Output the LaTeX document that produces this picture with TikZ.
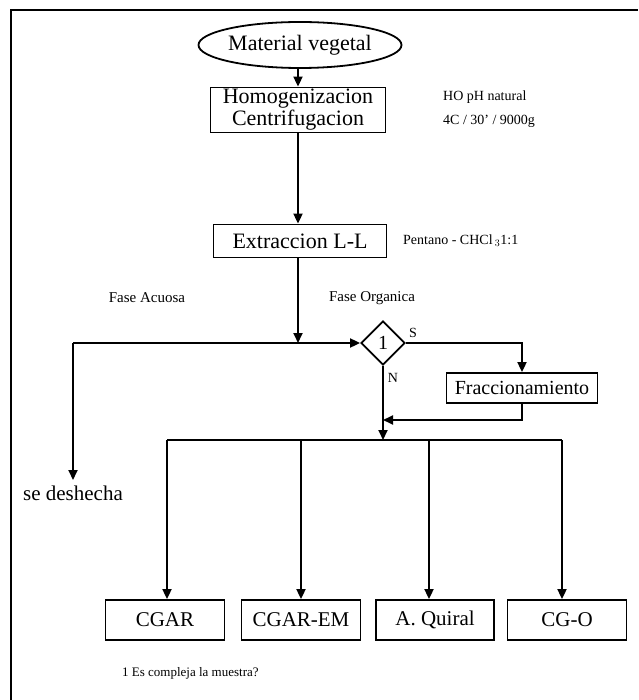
\documentclass[tikz,border=0pt]{standalone}
\usepackage{fontspec}
\setmainfont{Liberation Serif}
\usetikzlibrary{shapes.geometric,arrows.meta}
\tikzset{
  conn/.style={line width=1.8pt,-{Triangle[length=10pt,width=9pt]}},
  plain/.style={line width=1.8pt},
  boxnode/.style={draw,line width=1.8pt,rectangle,inner sep=0pt,align=center,font=\fontsize{21}{22}\selectfont},
  small/.style={inner sep=0pt,font=\fontsize{14}{16}\selectfont},
  big/.style={inner sep=0pt,font=\fontsize{21}{24}\selectfont}
}
\begin{document}
\begin{tikzpicture}[x=1pt,y=-1pt]
\useasboundingbox (0,0) rectangle (638,700);
\draw[line width=1.8pt] (11,700) -- (11,10) -- (638,10);
% nodes
\node[draw,ellipse,line width=1.8pt,minimum width=195pt,minimum height=46pt,inner sep=0pt,font=\fontsize{22}{24}\selectfont] (mv) at (300,45) {Material vegetal};
\node[boxnode,minimum width=175pt,minimum height=45pt,font=\fontsize{22}{22}\selectfont] (hc) at (298,110) {Homogenizacion\\Centrifugacion};
\node[small,anchor=west] (ho) at (443,97) {HO pH natural};
\node[small,anchor=west] (tc) at (443,121) {4C / 30' / 9000g};
\node[boxnode,minimum width=173pt,minimum height=33pt,font=\fontsize{22}{24}\selectfont] (ext) at (300,241) {Extraccion L-L};
\node[small,anchor=west] (pe) at (403,241) {Pentano - CHCl\,$_3$1:1};
\node[small,font=\fontsize{15}{17}\selectfont] (fa) at (147,298) {Fase Acuosa};
\node[small,font=\fontsize{15}{17}\selectfont] (fo) at (372,298) {Fase Organica};
\node[draw,diamond,line width=1.8pt,minimum width=44pt,minimum height=44pt,inner sep=0pt,font=\fontsize{20}{22}\selectfont] (d1) at (383,343) {1};
\node[small] (s) at (413,333) {S};
\node[small] (n) at (393,378) {N};
\node[boxnode,minimum width=151pt,minimum height=30pt,font=\fontsize{20}{22}\selectfont] (fr) at (522,388) {Fraccionamiento};
\node[big,anchor=north] (sd) at (73,486) {se deshecha};
\node[boxnode,minimum width=119pt,minimum height=40pt] (b1) at (165,620) {CGAR};
\node[boxnode,minimum width=119pt,minimum height=40pt] (b2) at (301,620) {CGAR-EM};
\node[boxnode,minimum width=118pt,minimum height=40pt] (b3) at (435,620) {A. Quiral};
\node[boxnode,minimum width=119pt,minimum height=40pt] (b4) at (567,620) {CG-O};
\node[small,anchor=west,font=\fontsize{13}{15}\selectfont] (fn) at (122,673) {1 Es compleja la muestra?};
% coordinates
\coordinate (j1) at (298,343);
\coordinate (la) at (73,343);
\coordinate (ret) at (383,420);
\coordinate (dj) at (383,440);
\coordinate (dl) at (167,440);
\coordinate (dr) at (562,440);
\coordinate (d3) at (429,440);
% connectors
\draw[conn] (mv.south -| hc.north) -- (hc.north);
\draw[conn] (hc.south) -- (hc.south |- ext.north);
\draw[conn] (hc.south |- ext.south) -- (j1);
\draw[conn] (la) -- ([yshift=6pt]sd.north);
\draw[conn] (la) -- (d1.west);
\draw[conn] (d1.east) -| (fr.north);
\draw[conn] (d1.south) -- (dj);
\draw[conn] (fr.south) |- (ret);
\draw[plain] (dl) -- (dr);
\draw[conn] (dl) -- (dl |- b1.north);
\draw[conn] (b2.north |- dl) -- (b2.north);
\draw[conn] (d3) -- (d3 |- b3.north);
\draw[conn] (dr) -- (dr |- b4.north);
\end{tikzpicture}
\end{document}
